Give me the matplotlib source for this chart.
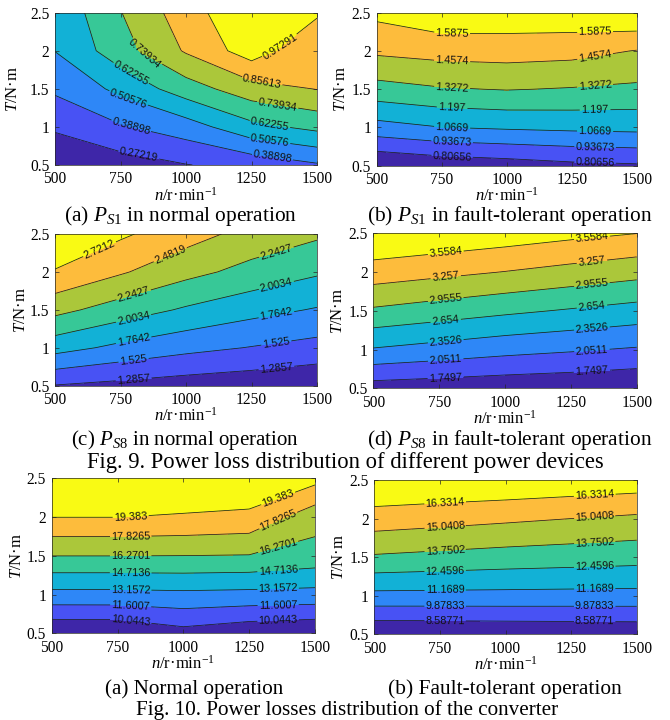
import numpy as np
import matplotlib
matplotlib.use('Agg')
import matplotlib.pyplot as plt

plt.rcParams['font.family'] = 'Liberation Serif'
plt.rcParams['mathtext.fontset'] = 'custom'
plt.rcParams['mathtext.rm'] = 'Liberation Serif'
plt.rcParams['mathtext.it'] = 'Liberation Serif:italic'

# grid of the maps
speed = [500, 750, 1000, 1250, 1500]          # n / r.min-1
torque = [0.5, 1.0, 1.5, 2.0, 2.5]            # T / N.m

# rows: torque 0.5 -> 2.5, columns: speed 500 -> 1500
ps1_normal = [[0.160, 0.216, 0.268, 0.311, 0.376],
              [0.291, 0.377, 0.450, 0.589, 0.653],
              [0.409, 0.535, 0.684, 0.808, 0.860],
              [0.508, 0.690, 0.869, 1.032, 0.870],
              [0.530, 0.735, 0.920, 1.080, 0.990]]
ps1_fault = [[0.679, 0.719, 0.744, 0.775, 0.791],
             [1.018, 1.065, 1.083, 1.096, 1.104],
             [1.279, 1.317, 1.333, 1.319, 1.301],
             [1.481, 1.506, 1.514, 1.501, 1.452],
             [1.620, 1.684, 1.675, 1.680, 1.713]]
ps8_normal = [[1.275, 1.219, 1.168, 1.131, 1.080],
              [1.856, 1.706, 1.593, 1.514, 1.440],
              [2.315, 2.130, 1.972, 1.844, 1.745],
              [2.702, 2.509, 2.315, 2.165, 2.035],
              [2.960, 2.760, 2.580, 2.400, 2.283]]
ps8_fault = [[1.608, 1.575, 1.541, 1.515, 1.470],
             [2.329, 2.239, 2.149, 2.085, 2.020],
             [2.909, 2.811, 2.713, 2.625, 2.536],
             [3.421, 3.335, 3.249, 3.155, 3.061],
             [3.860, 3.800, 3.726, 3.640, 3.562]]
conv_normal = [[8.55, 8.60, 9.48, 8.88, 8.585],
               [12.70, 12.70, 12.81, 12.71, 12.616],
               [16.28, 16.28, 16.257, 16.198, 15.669],
               [19.40, 19.40, 19.25, 19.00, 16.886],
               [20.60, 20.94, 20.63, 20.85, 19.90]]
conv_fault = [[7.333, 7.39, 7.451, 7.50, 7.545],
              [10.816, 10.80, 10.79, 10.77, 10.758],
              [13.598, 13.40, 13.208, 13.07, 12.93],
              [15.75, 15.52, 15.28, 15.04, 14.793],
              [17.62, 17.54, 17.46, 17.29, 17.12]]

lv_ps1_normal = [0.27219, 0.38898, 0.50576, 0.62255, 0.73934, 0.85613, 0.97291]
lv_ps1_fault = [0.80656, 0.93673, 1.0669, 1.197, 1.3272, 1.4574, 1.5875]
lv_ps8_normal = [1.2857, 1.525, 1.7642, 2.0034, 2.2427, 2.4819, 2.7212]
lv_ps8_fault = [1.7497, 2.0511, 2.3526, 2.654, 2.9555, 3.257, 3.5584]
lv_conv_normal = [10.0443, 11.6007, 13.1572, 14.7136, 16.2701, 17.8265, 19.383]
lv_conv_fault = [8.58771, 9.87833, 11.1689, 12.4596, 13.7502, 15.0408, 16.3314]

xtick_labels = ['500', '750', '1000', '1250', '1500']
ytick_labels = ['0.5', '1', '1.5', '2', '2.5']

cap_a = r'(a) $P_{S\mathrm{1}}$ in normal operation'
cap_b = r'(b) $P_{S\mathrm{1}}$ in fault-tolerant operation'
cap_c = r'(c) $P_{S\mathrm{8}}$ in normal operation'
cap_d = r'(d) $P_{S\mathrm{8}}$ in fault-tolerant operation'
fig9 = 'Fig. 9. Power loss distribution of different power devices'
cap_e = '(a) Normal operation'
cap_f = '(b) Fault-tolerant operation'
fig10 = 'Fig. 10. Power losses distribution of the converter'

# parula-like band colours (8 bands)
bands = ['#3e26a8', '#4852f4', '#2e87f7', '#12b1d6', '#37c897',
         '#abc73a', '#fdbc3c', '#f9fa14']

W, H = 670, 720
fig = plt.figure(figsize=(W / 100, H / 100), dpi=100)


def rect(l, t, r, b):
    return [l / W, 1 - b / H, (r - l) / W, (b - t) / H]


def point_on(cs, i, xt):
    path = cs.get_paths()[i]
    for seg in path.to_polygons(closed_only=False):
        for k in range(len(seg) - 1):
            x0, y0 = seg[k]
            x1, y1 = seg[k + 1]
            if x0 != x1 and (x0 - xt) * (x1 - xt) <= 0:
                f = (xt - x0) / (x1 - x0)
                return (xt, y0 + f * (y1 - y0))
    return None


def panel(box, z, lv, label_x, ylab_x=-0.105):
    ax = fig.add_axes(rect(*box))
    z = np.array(z)
    lo = min(z.min(), lv[0]) - 1
    hi = max(z.max(), lv[-1]) + 1
    ax.contourf(speed, torque, z, levels=[lo] + lv + [hi], colors=bands)
    cs = ax.contour(speed, torque, z, levels=lv, colors='#1e1e1e',
                    linewidths=0.55)
    ax.set_xlim(500, 1500)
    ax.set_ylim(0.5, 2.5)
    pts = []
    for i, xs in enumerate(label_x):
        for xt in xs:
            p = point_on(cs, i, xt)
            if p is not None:
                pts.append(p)
    ax.clabel(cs, manual=pts, inline=True, inline_spacing=3,
              fontsize=7.8, fmt=lambda v: f'{v:g}',
              colors='#111111')
    for t in cs.labelTexts:
        t.set_fontfamily('Liberation Sans')
    ax.set_xticks(speed)
    ax.set_xticklabels(xtick_labels)
    ax.set_yticks(torque)
    ax.set_yticklabels(ytick_labels)
    ax.tick_params(direction='in', length=3, width=0.5, top=True,
                   right=True, labelsize=11.2, color='#262626')
    ax.tick_params(axis='x', pad=4.5)
    ax.tick_params(axis='y', pad=4)
    for s in ax.spines.values():
        s.set_linewidth(0.5)
        s.set_color('#262626')
    ax.set_xlabel(r'$n$/r·min$^{\mathrm{-1}}$', fontsize=12)
    ax.xaxis.set_label_coords(0.5, -0.14)
    ax.set_ylabel(r'$T$/N·m', fontsize=12)
    ax.yaxis.set_label_coords(ylab_x, 0.5)
    return ax


panel((55, 12.7, 317, 165), ps1_normal, lv_ps1_normal,
      [[820], [790, 1330], [780, 1320], [790, 1320], [840, 1350], [1290], [1360]],
      ylab_x=-0.13)
panel((376.7, 12.7, 636.7, 165.7), ps1_fault, lv_ps1_fault, [[790, 1340]] * 7)
panel((55, 234, 317, 385.7), ps8_normal, lv_ps8_normal,
      [[800, 1345]] * 5 + [[940], [670]], ylab_x=-0.1)
panel((373.3, 233.3, 636.7, 388.3), ps8_fault, lv_ps8_fault, [[775, 1330]] * 7)
panel((51.7, 478.3, 315, 633.3), conv_normal, lv_conv_normal, [[800, 1360]] * 7,
      ylab_x=-0.1)
panel((374.3, 480, 636.7, 634.3), conv_fault, lv_conv_fault, [[770, 1340]] * 7)


def caption(x, y, s, size):
    fig.text(x / W, 1 - y / H, s, ha='center', va='center', fontsize=size)


caption(181, 216, cap_a, 15.4)
caption(510, 216, cap_b, 15.4)
caption(185, 440, cap_c, 15.0)
caption(510, 440, cap_d, 15.4)
caption(345, 462, fig9, 16.3)
caption(194, 689, cap_e, 15.2)
caption(505, 689, cap_f, 15.4)
caption(347, 710, fig10, 15.2)

fig.savefig('out.png', dpi=100)
